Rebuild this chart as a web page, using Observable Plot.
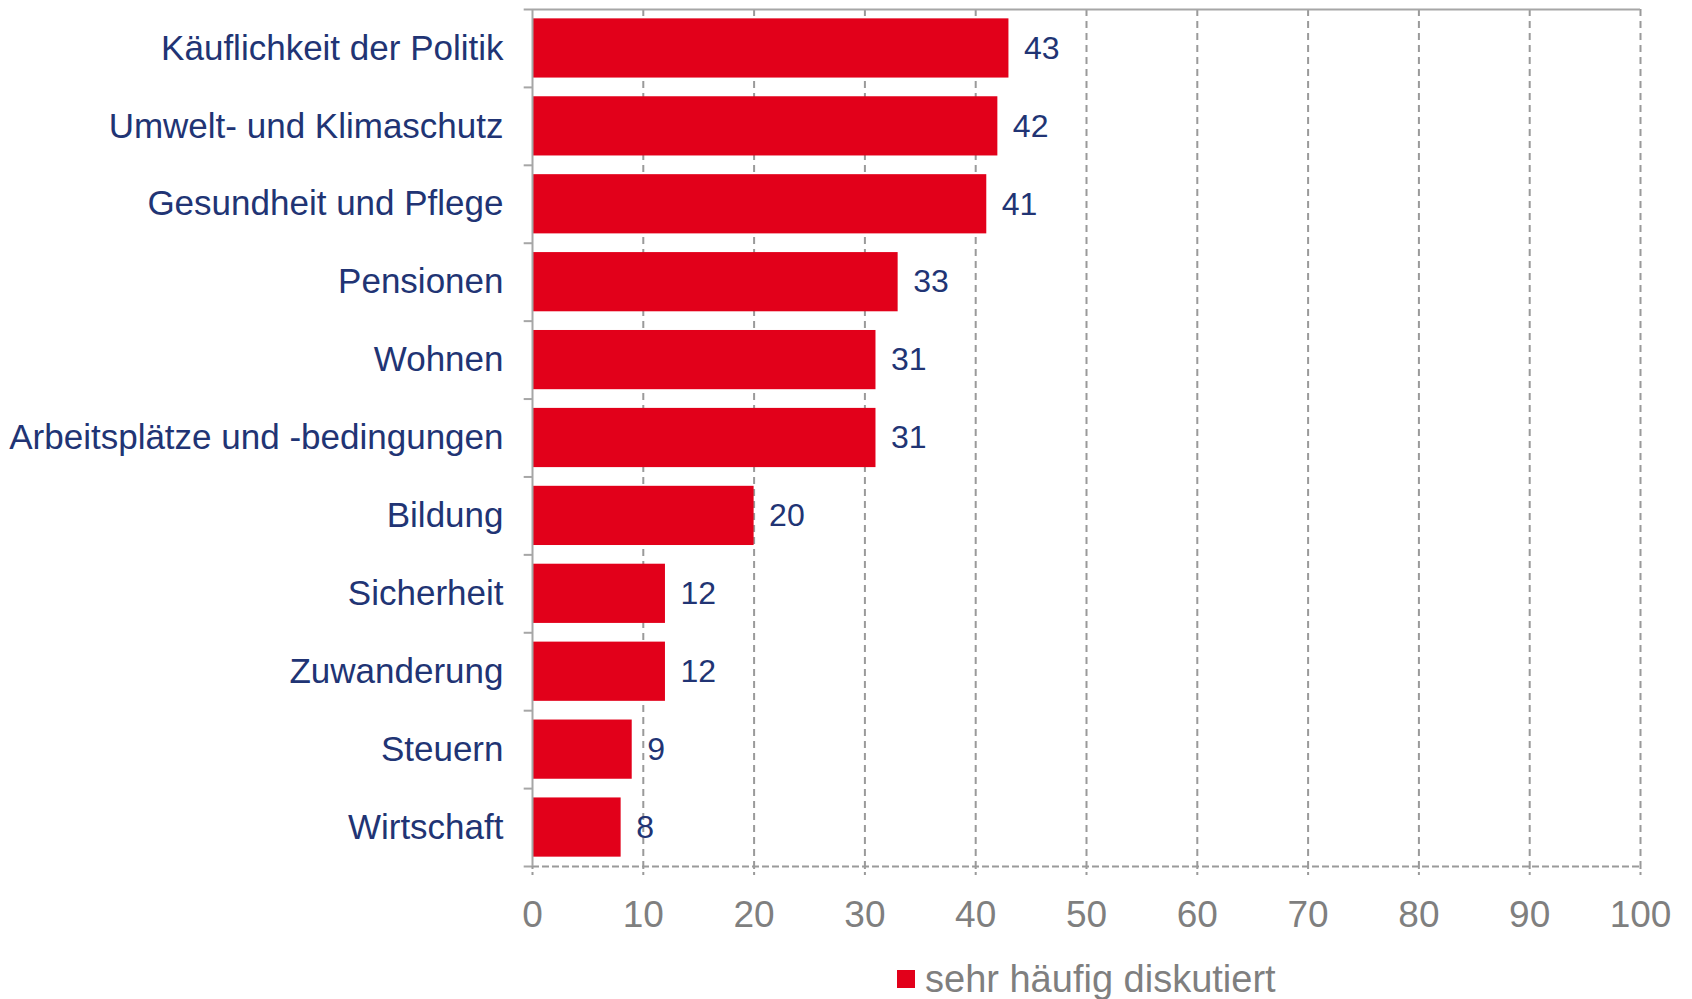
<!DOCTYPE html>
<html>
<head>
<meta charset="utf-8">
<script src="https://cdn.jsdelivr.net/npm/d3@7"></script>
<script src="https://cdn.jsdelivr.net/npm/@observablehq/plot@0.6"></script>
<style>
  html, body { margin: 0; padding: 0; background: #fff; }
  body { width: 1692px; height: 999px; position: relative; overflow: hidden; font-family: "Liberation Sans", Arial, sans-serif; }
  #chart svg { display: block; }
  #legend { position: absolute; left: 897px; top: 958px; height: 42px; display: flex; align-items: center; }
  #legend .sw { width: 18px; height: 18px; background: #E2001A; margin-right: 10px; }
  #legend .lb { font-size: 38px; color: #7f7f7f; line-height: 42px; }
</style>
</head>
<body>
<div id="chart"></div>
<div id="legend"><div class="sw"></div><div class="lb">sehr häufig diskutiert</div></div>
<script>
const categories = [
  "Käuflichkeit der Politik",
  "Umwelt- und Klimaschutz",
  "Gesundheit und Pflege",
  "Pensionen",
  "Wohnen",
  "Arbeitsplätze und -bedingungen",
  "Bildung",
  "Sicherheit",
  "Zuwanderung",
  "Steuern",
  "Wirtschaft"
];
const values = [43, 42, 41, 33, 31, 31, 20, 12, 12, 9, 8];
const xTicks = [0, 10, 20, 30, 40, 50, 60, 70, 80, 90, 100];
const seriesName = "sehr häufig diskutiert";

const data = categories.map((c, i) => ({category: c, value: values[i]}));

const W = 1692, H = 945, mT = 9, mB = 79, mL = 532, mR = 52;
const step = (H - mT - mB) / categories.length;

const navy = "#213474";
const red = "#E2001A";
const grid = "#9a9a9a";

const chart = Plot.plot({
  width: W,
  height: H,
  marginTop: mT,
  marginBottom: mB,
  marginLeft: mL,
  marginRight: mR,
  style: {fontFamily: "'Liberation Sans', Arial, sans-serif", background: "#fff"},
  x: {domain: [0, 100]},
  y: {domain: categories, paddingInner: 0.24, paddingOuter: 0.12, round: false},
  marks: [
    Plot.ruleX(xTicks.filter(d => d > 0), {stroke: grid, strokeWidth: 2, strokeDasharray: "7,5"}),
    Plot.ruleY([categories[categories.length - 1]], {x1: 0, x2: 100, dy: step / 2, stroke: grid, strokeWidth: 2, strokeDasharray: "7,3"}),
    Plot.ruleY([categories[0]], {x1: 0, x2: 100, dy: -step / 2, stroke: "#a6a6a6", strokeWidth: 2}),
    Plot.ruleY(categories, {x1: -0.75, x2: 0, dy: -step / 2, stroke: "#a6a6a6", strokeWidth: 2}),
    Plot.ruleY([categories[categories.length - 1]], {x1: -0.75, x2: 0, dy: step / 2, stroke: "#a6a6a6", strokeWidth: 2}),
    Plot.barX(data, {x: "value", y: "category", fill: red}),
    Plot.ruleX([0], {stroke: "#a6a6a6", strokeWidth: 2}),
    Plot.text(data, {x: "value", y: "category", text: d => String(d.value), dx: 15, textAnchor: "start", fill: navy, fontSize: 32}),
    Plot.axisY({tickSize: 0, tickPadding: 29, fontSize: 35, color: navy, label: null}),
    Plot.axisX({ticks: xTicks, tickSize: 9, tickPadding: 25, fontSize: 37, stroke: grid, fill: "#7f7f7f", strokeWidth: 2, strokeDasharray: "3,3", label: null})
  ]
});
document.getElementById("chart").appendChild(chart);
</script>
</body>
</html>
